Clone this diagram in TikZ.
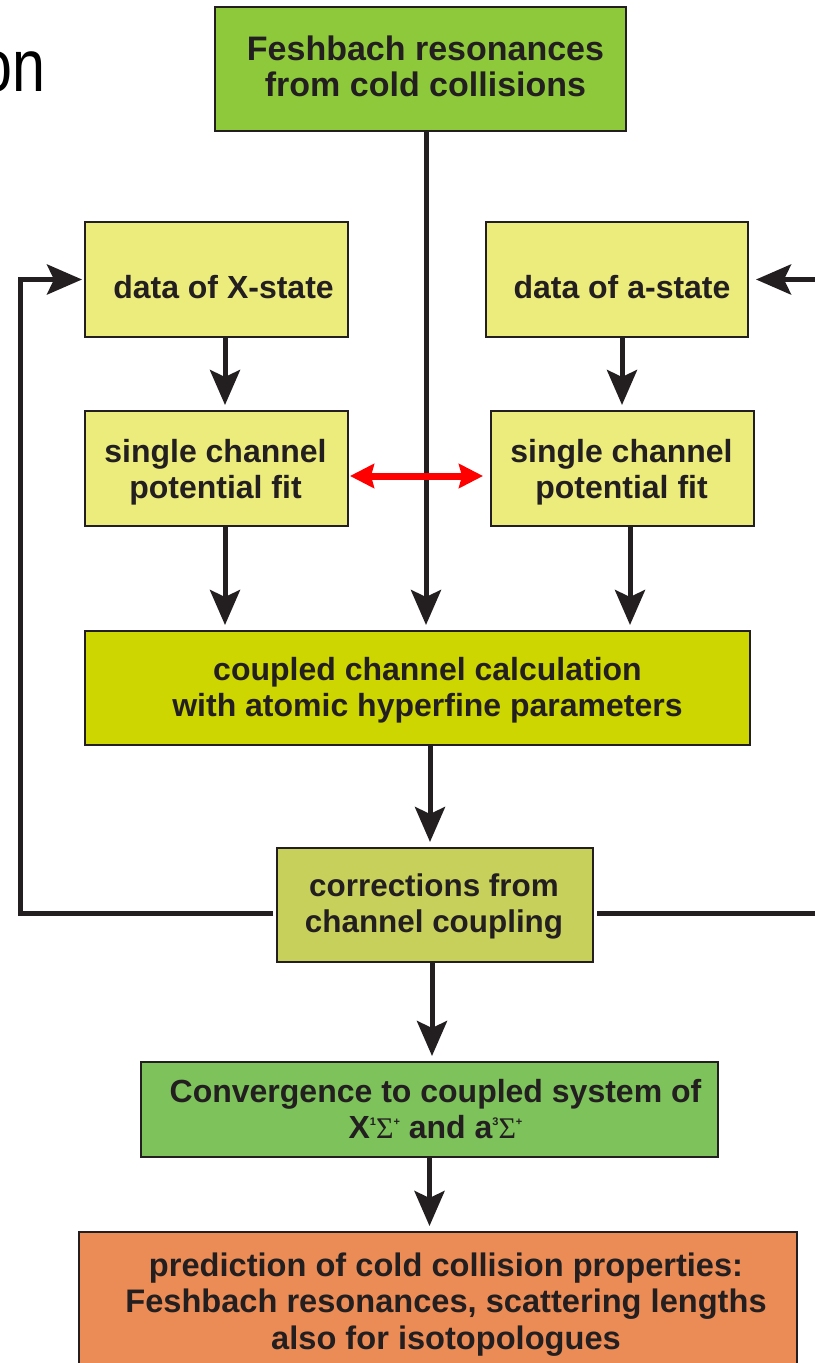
\documentclass[tikz,border=0pt]{standalone}
\usepackage{fontspec}
\setmainfont{Liberation Sans}
\newfontfamily\grkfont{Liberation Serif}
\usetikzlibrary{arrows.meta}
\definecolor{textc}{HTML}{231F20}
\definecolor{topc}{HTML}{8DC93B}
\definecolor{datac}{HTML}{ECEC7C}
\definecolor{coupc}{HTML}{CDD600}
\definecolor{corrc}{HTML}{C8D05C}
\definecolor{convc}{HTML}{7DC25B}
\definecolor{predc}{HTML}{EB8C56}
\newcommand\supx[1]{\raisebox{6.5pt}{\fontsize{5.5}{5.5}\selectfont #1}}
\newcommand\sig{{\grkfont\mdseries\fontsize{15}{15}\selectfont Σ}}
\tikzset{
  boxst/.style={draw=textc, line width=1pt, rectangle, inner sep=0pt},
  txt/.style={font=\fontsize{16}{18}\selectfont\bfseries, text=textc, align=center, inner sep=0pt},
  conn/.style={draw=textc, line width=2.5pt},
  arr/.style={conn, -{Stealth[length=17.5pt, width=15pt, inset=3.5pt]}, shorten >=2.5pt},
  redarr/.style={draw=red, line width=3.5pt, {Stealth[length=12pt, width=12pt, inset=1.5pt]}-{Stealth[length=12pt, width=12pt, inset=1.5pt]}},
}
\begin{document}
\begin{tikzpicture}[x=0.5pt, y=-0.5pt]
\useasboundingbox (0,0) rectangle (814,1363);
% partial title text
\node[anchor=base east, inner sep=0pt, text=black, font=\fontsize{37}{37}\selectfont] (ttl) at (46,92) {\scalebox{0.8}[1]{on}};
% boxes
\node[boxst, fill=topc, minimum width=205.5pt, minimum height=62pt] (top) at (420.5,69) {};
\node[boxst, fill=datac, minimum width=131.5pt, minimum height=57.5pt] (xdata) at (216.5,279.5) {};
\node[boxst, fill=datac, minimum width=131pt, minimum height=57.5pt] (adata) at (617,279.5) {};
\node[boxst, fill=datac, minimum width=131.5pt, minimum height=57.5pt] (sleft) at (216.5,468.5) {};
\node[boxst, fill=datac, minimum width=131.5pt, minimum height=57.5pt] (sright) at (622.5,468.5) {};
\node[boxst, fill=coupc, minimum width=332.5pt, minimum height=57pt] (coupled) at (417.5,688) {};
\node[boxst, fill=corrc, minimum width=158pt, minimum height=57pt] (corr) at (435,905) {};
\node[boxst, fill=convc, minimum width=288.5pt, minimum height=47.5pt] (conv) at (429.5,1109.5) {};
\node[boxst, fill=predc, minimum width=359pt, minimum height=69pt] (pred) at (438,1301) {};
% texts
\node[txt, font=\fontsize{17}{18}\selectfont\bfseries] (ttop) at ([xshift=2.5pt, yshift=1.5pt]top.center) {Feshbach resonances\\from cold collisions};
\node[txt] (txdata) at ([xshift=3.5pt, yshift=-4pt]xdata.center) {data of X-state};
\node[txt] (tadata) at ([xshift=2.5pt, yshift=-4pt]adata.center) {data of a-state};
\node[txt] (tsleft) at ([xshift=-0.5pt, yshift=-2pt]sleft.center) {single channel\\potential fit};
\node[txt] (tsright) at ([xshift=-0.5pt, yshift=-2pt]sright.center) {single channel\\potential fit};
\node[txt] (tcoupled) at ([xshift=5pt, yshift=-1pt]coupled.center) {coupled channel calculation\\with atomic hyperfine parameters};
\node[txt, font=\fontsize{15.7}{18}\selectfont\bfseries] (tcorr) at ([xshift=-0.5pt, yshift=-0.5pt]corr.center) {corrections from\\channel coupling};
\node[txt] (tconv) at ([xshift=3pt]conv.center) {Convergence to coupled system of\\X\supx{1}\sig\supx{+} and a\supx{3}\sig\supx{+}};
\node[txt, font=\fontsize{16.3}{18.3}\selectfont\bfseries] (tpred) at ([xshift=4pt, yshift=-1.75pt]pred.center) {prediction of cold collision properties:\\Feshbach resonances, scattering lengths\\also for isotopologues};
% connectors
\draw[arr] ([xshift=2.75pt]top.south) -- ([xshift=2.75pt]top.south |- coupled.north);
\draw[arr] ([xshift=4.25pt]xdata.south) -- ([xshift=4.25pt]xdata.south |- sleft.north);
\draw[arr] ([xshift=2.5pt]adata.south) -- ([xshift=2.5pt]adata.south |- sright.north);
\draw[arr] ([xshift=4.25pt]sleft.south) -- ([xshift=4.25pt]sleft.south |- coupled.north);
\draw[arr] ([xshift=3.75pt]sright.south) -- ([xshift=3.75pt]sright.south |- coupled.north);
\draw[arr] ([xshift=6.25pt]coupled.south) -- ([xshift=6.25pt]coupled.south |- corr.north);
\draw[arr] ([xshift=-1.5pt]corr.south) -- ([xshift=-1.5pt]corr.south |- conv.north);
\draw[arr] (conv.south) -- (conv.south |- pred.north);
% feedback loops
\coordinate (lc) at (20,913);
\coordinate (rc) at (830,913);
\coordinate (ra) at (830,279.5);
\draw[arr, shorten <=1.5pt, shorten >=1pt] ([yshift=-4pt]corr.west) -- (lc) -- (lc |- xdata.west) -- (xdata.west);
\draw[conn, shorten <=1.5pt] ([yshift=-4pt]corr.east) -- (rc);
\draw[arr, shorten >=3.5pt] (ra) -- (adata.east);
% red double arrow
\draw[redarr, shorten <=0.5pt, shorten >=3.5pt] ([yshift=-3.75pt]sleft.east) -- ([yshift=-3.75pt]sleft.east -| sright.west);
\end{tikzpicture}
\end{document}
